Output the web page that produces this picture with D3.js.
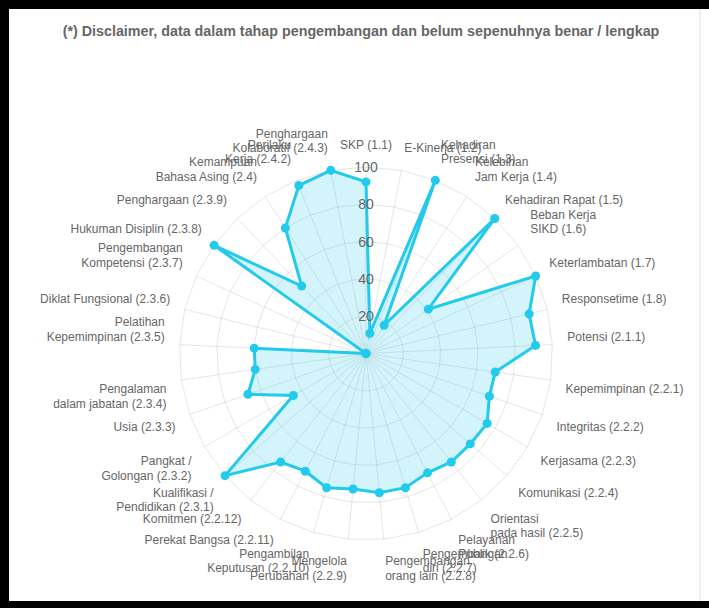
<!DOCTYPE html>
<html>
<head>
<meta charset="utf-8">
<script src="https://cdn.jsdelivr.net/npm/d3@7"></script>
<style>
  body { margin: 0; background: #fff; }
  svg { display: block; font-family: "Liberation Sans", Arial, Helvetica, sans-serif; }
</style>
</head>
<body>
<div id="chart"></div>
<script>
var width = 709,
    height = 608;

var title = "(*) Disclaimer, data dalam tahap pengembangan dan belum sepenuhnya benar / lengkap";

// axis labels, clockwise from the top (multi-line labels as arrays)
var labels = [
  ["SKP (1.1)"],
  ["E-Kinerja (1.2)"],
  ["Kehadiran", "Presensi (1.3)"],
  ["Kelebihan", "Jam Kerja (1.4)"],
  ["Kehadiran Rapat (1.5)"],
  ["Beban Kerja", "SIKD (1.6)"],
  ["Keterlambatan (1.7)"],
  ["Responsetime (1.8)"],
  ["Potensi (2.1.1)"],
  ["Kepemimpinan (2.2.1)"],
  ["Integritas (2.2.2)"],
  ["Kerjasama (2.2.3)"],
  ["Komunikasi (2.2.4)"],
  ["Orientasi", "pada hasil (2.2.5)"],
  ["Pelayanan", "Publik (2.2.6)"],
  ["Pengembangan", "diri (2.2.7)"],
  ["Pengembangan", "orang lain (2.2.8)"],
  ["Mengelola", "Perubahan (2.2.9)"],
  ["Pengambilan", "Keputusan (2.2.10)"],
  ["Perekat Bangsa (2.2.11)"],
  ["Komitmen (2.2.12)"],
  ["Kualifikasi /", "Pendidikan (2.3.1)"],
  ["Pangkat /", "Golongan (2.3.2)"],
  ["Usia (2.3.3)"],
  ["Pengalaman", "dalam jabatan (2.3.4)"],
  ["Pelatihan", "Kepemimpinan (2.3.5)"],
  ["Diklat Fungsional (2.3.6)"],
  ["Pengembangan", "Kompetensi (2.3.7)"],
  ["Hukuman Disiplin (2.3.8)"],
  ["Penghargaan (2.3.9)"],
  ["Kemampuan", "Bahasa Asing (2.4)"],
  ["Perilaku", "Kerja (2.4.2)"],
  ["Penghargaan", "Kolaboratif (2.4.3)"]
];

var values = [92, 11, 100, 18, 100, 41, 100, 90, 91, 70, 70, 75, 74, 74, 72, 75, 75,
              73, 75, 71, 74, 100, 45, 67, 60, 60, 0, 0, 100, 50, 80, 97, 100];

var ticks = [20, 40, 60, 80, 100];

var lineColor = "rgb(34,202,236)",
    fillColor = "rgba(34,202,236,0.2)",
    gridColor = "rgba(0,0,0,0.1)",
    textColor = "#666";

var svg = d3.select("#chart").append("svg")
    .attr("width", width)
    .attr("height", height);

// black frame round the white card
svg.append("rect").attr("width", width).attr("height", height).attr("fill", "#000");
svg.append("rect").attr("x", 9).attr("y", 9).attr("width", width - 9).attr("height", 592).attr("fill", "#fff");
svg.append("line").attr("x1", 700).attr("x2", 700).attr("y1", 9).attr("y2", 601)
    .attr("stroke", "#ddd");

svg.append("text")
    .attr("x", 361)
    .attr("y", 31)
    .attr("text-anchor", "middle")
    .attr("dominant-baseline", "central")
    .style("font-weight", "bold")
    .style("font-size", "14.3px")
    .attr("fill", textColor)
    .text(title);

var cx = 366, cy = 353.5, R = 186.5;
var n = labels.length;

var r = d3.scaleLinear().domain([0, 100]).range([0, R]);
var angle = d3.scaleLinear().domain([0, n]).range([0, 2 * Math.PI]);

function pos(i, rad) {
  var a = angle(i);
  return [cx + rad * Math.sin(a), cy - rad * Math.cos(a)];
}

var g = svg.append("g");

// grid rings (polygons)
g.selectAll(".ring")
  .data(ticks)
  .enter().append("polygon")
    .attr("points", function (t) {
      return d3.range(n).map(function (i) { return pos(i, r(t)).join(","); }).join(" ");
    })
    .attr("fill", "none")
    .attr("stroke", gridColor);

// angle lines
g.selectAll(".spoke")
  .data(d3.range(n))
  .enter().append("line")
    .attr("x1", cx).attr("y1", cy)
    .attr("x2", function (i) { return pos(i, R)[0]; })
    .attr("y2", function (i) { return pos(i, R)[1]; })
    .attr("stroke", gridColor);

// point labels, placed the way chart.js does it
var lineH = 14.4, pad = 15;
labels.forEach(function (lines, i) {
  var p = pos(i, R + pad);
  var deg = Math.round(angle(i) * 180 / Math.PI) % 360;
  var anchor = (deg === 0 || deg === 180) ? "middle" : (deg < 180 ? "start" : "end");
  var h = lines.length * lineH;
  var y = p[1];
  if (deg === 90 || deg === 270) y -= h / 2;
  else if (deg > 270 || deg < 90) y -= h;
  var t = g.append("text")
      .attr("text-anchor", anchor)
      .attr("fill", textColor)
      .style("font-size", "12px");
  lines.forEach(function (s, j) {
    t.append("tspan")
      .attr("x", p[0])
      .attr("y", y + lineH / 2 + j * lineH)
      .attr("dominant-baseline", "central")
      .text(s);
  });
});

// dataset
var radial = d3.lineRadial()
    .angle(function (d, i) { return angle(i); })
    .radius(function (d) { return r(d); })
    .curve(d3.curveLinearClosed);

g.append("path")
    .datum(values)
    .attr("transform", "translate(" + cx + "," + cy + ")")
    .attr("d", radial)
    .attr("fill", fillColor)
    .attr("stroke", lineColor)
    .attr("stroke-width", 3)
    .attr("stroke-linejoin", "miter")
    .attr("stroke-miterlimit", 10);

g.selectAll(".pt")
  .data(values)
  .enter().append("circle")
    .attr("cx", function (d, i) { return pos(i, r(d))[0]; })
    .attr("cy", function (d, i) { return pos(i, r(d))[1]; })
    .attr("r", 4.5)
    .attr("fill", lineColor);

// tick labels
g.selectAll(".tick")
  .data(ticks)
  .enter().append("text")
    .attr("x", cx)
    .attr("y", function (t) { return cy - r(t); })
    .attr("text-anchor", "middle")
    .attr("dominant-baseline", "central")
    .attr("fill", textColor)
    .style("font-size", "14px")
    .text(function (t) { return t; });
</script>
</body>
</html>
